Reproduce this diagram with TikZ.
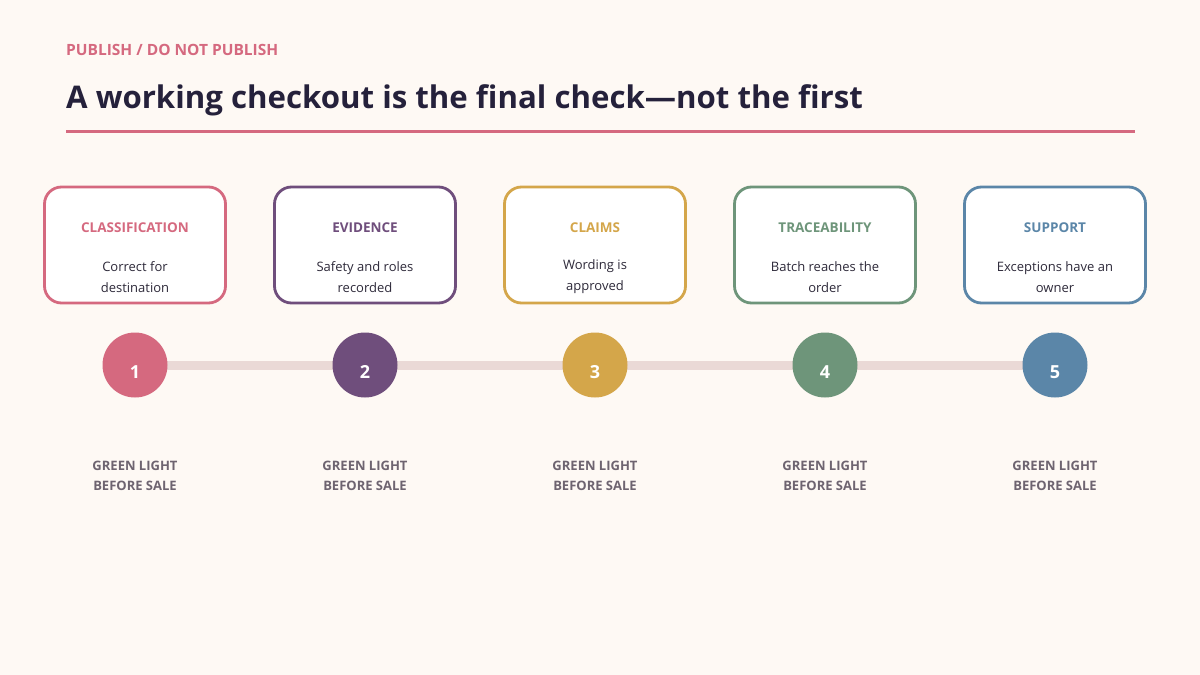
\documentclass[tikz,border=0pt]{standalone}
\usepackage{fontspec}
\setmainfont{Open Sans}
\definecolor{bg}{HTML}{FEF9F4}
\definecolor{cpink}{HTML}{D5697F}
\definecolor{cpurple}{HTML}{6F4E7C}
\definecolor{cgold}{HTML}{D4A64A}
\definecolor{cgreen}{HTML}{6E957A}
\definecolor{cblue}{HTML}{5B86A8}
\definecolor{titlec}{HTML}{25213B}
\definecolor{bodyc}{HTML}{2E2A3A}
\definecolor{labc}{HTML}{6E6470}
\definecolor{trackc}{HTML}{EAD9D6}
\tikzset{
  card/.style={draw=#1, line width=2.8pt, fill=white, rounded corners=17pt, minimum width=181pt, minimum height=116pt, inner sep=0pt},
  cardtitle/.style={text=#1, font=\fontsize{13.5}{16}\selectfont\bfseries},
  cardbody/.style={text=bodyc, font=\fontsize{13}{21}\selectfont, align=center},
  dot/.style={circle, fill=#1, minimum size=65pt, inner sep=0pt},
  num/.style={text=white, font=\fontsize{18}{20}\selectfont\bfseries, inner sep=0pt},
  lab/.style={text=labc, font=\fontsize{13}{20}\selectfont\bfseries, align=center}
}
\begin{document}
\begin{tikzpicture}[x=1pt,y=-1pt]
\fill[bg] (0,0) rectangle (1200,675);
\useasboundingbox (0,0) rectangle (1200,675);
\node[anchor=west, text=cpink, font=\fontsize{15.5}{18}\selectfont\bfseries, inner sep=0pt] (sub) at (66,50) {PUBLISH / DO NOT PUBLISH};
\node[anchor=base west, text=titlec, font=\fontsize{31.2}{38}\selectfont\bfseries, inner sep=0pt] (title) at (66,108) {A working checkout is the final check—not the first};
\coordinate (rl) at (66,131);
\coordinate (rr) at (1135,131);
\draw[cpink, line width=3pt] (rl) -- (rr);
\coordinate (tl) at (135,365);
\coordinate (tr) at (1055,365);
\draw[trackc, line width=9pt] (tl) -- (tr);
\foreach \i/\x/\c/\t/\a/\b in {1/135/cpink/CLASSIFICATION/Correct for/destination,
  2/365/cpurple/EVIDENCE/Safety and roles/recorded,
  3/595/cgold/CLAIMS/Wording is/approved,
  4/825/cgreen/TRACEABILITY/Batch reaches the/order,
  5/1055/cblue/SUPPORT/Exceptions have an/owner} {
  \node[card=\c] (card\i) at (\x,245) {};
  \node[cardtitle=\c] (ct\i) at (\x,228) {\t};
  \node[cardbody] (cb\i) at (\x,277) {\a\\\b};
  \node[dot=\c] (d\i) at (\x,365) {};
  \node[num] (n\i) at (\x,372) {\i};
  \node[lab] (l\i) at (\x,475.5) {GREEN LIGHT\\BEFORE SALE};
}
\end{tikzpicture}
\end{document}
